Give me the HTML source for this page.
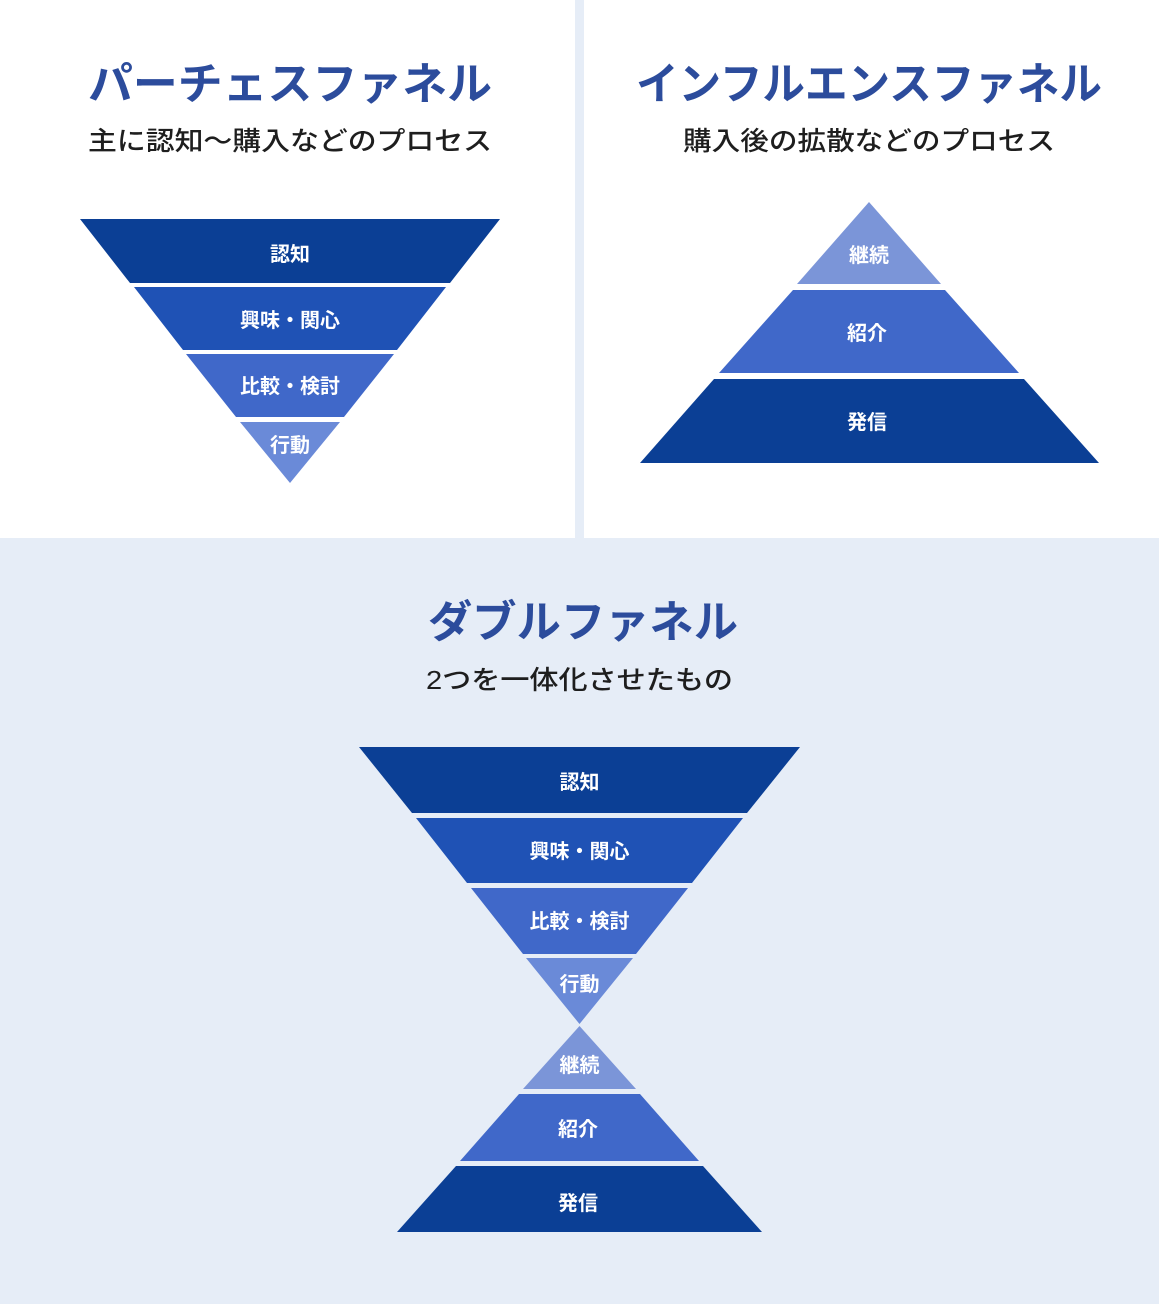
<!DOCTYPE html>
<html><head><meta charset="utf-8"><style>
html,body{margin:0;padding:0;background:#e6edf7;}
svg{display:block;}
text{font-family:"Liberation Sans","Noto Sans CJK JP",sans-serif;}
.t{font-weight:bold;fill:#2c4c9c;font-size:44px;}
.s{fill:#1e1e1e;font-size:26px;font-weight:500;}
.l{fill:#fff;font-size:20px;font-weight:bold;text-anchor:middle;}
</style></head><body>
<svg width="1159" height="1304" viewBox="0 0 1159 1304" xmlns="http://www.w3.org/2000/svg">
<rect x="0" y="0" width="1159" height="1304" fill="#e6edf7"/>
<rect x="0" y="0" width="575" height="538" fill="#fff"/>
<rect x="584" y="0" width="575" height="538" fill="#fff"/>

<!-- top-left -->
<text class="t" x="88" y="99" textLength="404" lengthAdjust="spacingAndGlyphs">パーチェスファネル</text>
<text class="s" x="88" y="150" textLength="404" lengthAdjust="spacingAndGlyphs">主に認知〜購入などのプロセス</text>
<polygon points="80,219 500,219 450,283 130,283" fill="#0b3f95"/>
<polygon points="134,287 446,287 397,350 183,350" fill="#1f52b5"/>
<polygon points="186,354 394,354 344,417 236,417" fill="#4068c9"/>
<polygon points="240,422 340,422 290,483" fill="#6a8ad8"/>
<text class="l" x="290" y="261">認知</text>
<text class="l" x="290" y="327">興味・関心</text>
<text class="l" x="290" y="393">比較・検討</text>
<text class="l" x="290" y="452">行動</text>

<!-- top-right -->
<text class="t" x="636" y="99" textLength="466" lengthAdjust="spacingAndGlyphs">インフルエンスファネル</text>
<text class="s" x="683" y="150" textLength="372" lengthAdjust="spacingAndGlyphs">購入後の拡散などのプロセス</text>
<polygon points="869,202 941,284 797,284" fill="#7b95d8"/>
<polygon points="793,290 945,290 1019,373 719,373" fill="#4068c9"/>
<polygon points="714,379 1024,379 1099,463 640,463" fill="#0b3f95"/>
<text class="l" x="869" y="262">継続</text>
<text class="l" x="867" y="340">紹介</text>
<text class="l" x="867" y="429">発信</text>

<!-- bottom -->
<text class="t" x="428" y="637" textLength="310" lengthAdjust="spacingAndGlyphs">ダブルファネル</text>
<text class="s" x="426" y="689" textLength="307" lengthAdjust="spacingAndGlyphs">2つを一体化させたもの</text>
<polygon points="359,747 800,747 747,813 412,813" fill="#0b3f95"/>
<polygon points="416,818 743,818 692,883 467,883" fill="#1f52b5"/>
<polygon points="471,888 688,888 636,954 523,954" fill="#4068c9"/>
<polygon points="526,958 633,958 579.5,1024" fill="#6a8ad8"/>
<text class="l" x="579.5" y="789">認知</text>
<text class="l" x="579.5" y="858">興味・関心</text>
<text class="l" x="579.5" y="928">比較・検討</text>
<text class="l" x="579.5" y="991">行動</text>
<polygon points="579.5,1026 636,1089 523,1089" fill="#7b95d8"/>
<polygon points="519,1094 640,1094 699,1161 460,1161" fill="#4068c9"/>
<polygon points="456,1166 703,1166 762,1232 397,1232" fill="#0b3f95"/>
<text class="l" x="579.5" y="1072">継続</text>
<text class="l" x="578" y="1136">紹介</text>
<text class="l" x="578" y="1210">発信</text>
</svg>
</body></html>
